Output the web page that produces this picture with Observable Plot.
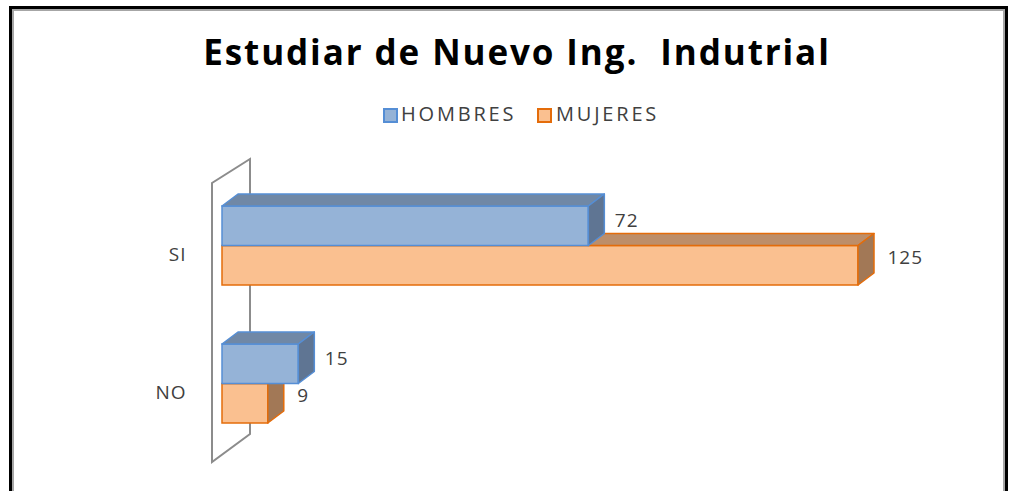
<!DOCTYPE html>
<html><head><meta charset="utf-8">
<script src="https://cdn.jsdelivr.net/npm/d3@7"></script>
<script src="https://cdn.jsdelivr.net/npm/@observablehq/plot@0.6"></script>
<style>
html,body{margin:0;padding:0;background:#fff}
body{width:1014px;height:491px;overflow:hidden;position:relative;font-family:"Open Sans",sans-serif}
#frame{position:absolute;left:9px;top:6px;width:993px;height:520px;border:3px solid #000;border-bottom:none;box-shadow:inset 2px 2px 0 #a6a6a6,inset -2px 0 0 #a6a6a6}
#title{position:absolute;left:10px;top:34px;width:1014px;text-align:center;font-weight:700;font-size:35px;line-height:1;white-space:pre;color:#000;letter-spacing:1.9px}
.leg{position:absolute;top:104px;font-size:20px;line-height:1;color:#404040;letter-spacing:2.8px;white-space:pre}
.sw{position:absolute;top:108px;width:11px;height:11px;border:2px solid}
#chart{position:absolute;left:0;top:0}
</style></head>
<body>
<div id="frame"></div>
<div id="title"></div>
<div id="legend"></div>
<div id="chart"></div>
<script>
const titleText = "Estudiar de Nuevo Ing.  Indutrial";
const categories = ["SI", "NO"];
const seriesNames = ["HOMBRES", "MUJERES"];
const hombres = [72, 15];
const mujeres = [125, 9];

const colors = {
  HOMBRES: {front: "#95b3d7", stroke: "#558ed5", top: "#7088a6", side: "#5f7593"},
  MUJERES: {front: "#fac090", stroke: "#e46c0a", top: "#bd8e69", side: "#a27856"}
};

const data = [];
categories.forEach((c, i) => {
  data.push({cat: c, series: "HOMBRES", value: hombres[i]});
  data.push({cat: c, series: "MUJERES", value: mujeres[i]});
});

document.getElementById("title").textContent = titleText;

// legend
const legend = document.getElementById("legend");
const legPos = [{sw: 383, tx: 401}, {sw: 537, tx: 556}];
seriesNames.forEach((s, i) => {
  const sw = document.createElement("div");
  sw.className = "sw";
  sw.style.left = legPos[i].sw + "px";
  sw.style.background = colors[s].front;
  sw.style.borderColor = colors[s].stroke;
  legend.appendChild(sw);
  const t = document.createElement("div");
  t.className = "leg";
  t.style.left = legPos[i].tx + "px";
  t.textContent = s;
  legend.appendChild(t);
});

const DX = 16, DY = -12;
const ns = "http://www.w3.org/2000/svg";

function bar3d(s) {
  return function(index, scales, values, dims, ctx, next) {
    const g = next(index, scales, values, dims, ctx);
    const rects = Array.from(g.querySelectorAll("rect"));
    for (const r of rects) {
      const x = +r.getAttribute("x"), y = +r.getAttribute("y");
      const w = +r.getAttribute("width"), h = +r.getAttribute("height");
      const top = document.createElementNS(ns, "path");
      top.setAttribute("d", `M${x},${y}L${x + DX},${y + DY}L${x + w + DX},${y + DY}L${x + w},${y}Z`);
      top.setAttribute("fill", colors[s].top);
      top.setAttribute("stroke", colors[s].stroke);
      top.setAttribute("stroke-width", 1.5);
      top.setAttribute("stroke-linejoin", "round");
      const side = document.createElementNS(ns, "path");
      side.setAttribute("d", `M${x + w},${y}L${x + w + DX},${y + DY}L${x + w + DX},${y + h + DY}L${x + w},${y + h}Z`);
      side.setAttribute("fill", colors[s].side);
      side.setAttribute("stroke", colors[s].stroke);
      side.setAttribute("stroke-width", 1.5);
      side.setAttribute("stroke-linejoin", "round");
      g.appendChild(top);
      g.appendChild(side);
    }
    return g;
  };
}

function wall(index, scales, values, dims) {
  const x0 = scales.x(0);
  const yTop = scales.y(categories[0]);
  const yBot = scales.y(categories[categories.length - 1]) + 79;
  const fx = x0 - 10, bx = x0 + 28;
  const p = document.createElementNS(ns, "path");
  p.setAttribute("d", `M${fx},${yBot + 39}L${fx},${yTop - 23}L${bx},${yTop - 47}L${bx},${yBot + 11}Z`);
  p.setAttribute("fill", "none");
  p.setAttribute("stroke", "#8c8c8c");
  p.setAttribute("stroke-width", 2);
  const g = document.createElementNS(ns, "g");
  g.appendChild(p);
  return g;
}

const halves = 39.5;
const marks = [wall];
// draw MUJERES first (behind), then HOMBRES
marks.push(Plot.barX(data.filter(d => d.series === "MUJERES"), {
  x: "value", y: "cat", insetTop: halves,
  fill: colors.MUJERES.front, stroke: colors.MUJERES.stroke, strokeWidth: 1.5,
  render: bar3d("MUJERES")
}));
marks.push(Plot.barX(data.filter(d => d.series === "HOMBRES"), {
  x: "value", y: "cat", insetBottom: halves,
  fill: colors.HOMBRES.front, stroke: colors.HOMBRES.stroke, strokeWidth: 1.5,
  render: bar3d("HOMBRES")
}));
marks.push(Plot.text(data.filter(d => d.series === "HOMBRES"), {
  x: "value", y: "cat", text: d => String(d.value), textAnchor: "start", dx: 26, dy: -25
}));
marks.push(Plot.text(data.filter(d => d.series === "MUJERES"), {
  x: "value", y: "cat", text: d => String(d.value), textAnchor: "start", dx: 29, dy: 12
}));
marks.push(Plot.axisY({tickSize: 0, tickPadding: 36, dy: 9, fontSize: 19, fill: "#404040"}));

const chart = Plot.plot({
  width: 1014, height: 491,
  marginLeft: 222, marginRight: 1014 - 858, marginTop: 205, marginBottom: 68,
  style: {background: "transparent", fontFamily: "Open Sans, sans-serif", fontSize: "19px", color: "#404040", letterSpacing: "1px"},
  x: {domain: [0, 125], axis: null},
  y: {domain: categories, paddingInner: 0.43, paddingOuter: 0, label: null},
  marks
});
document.getElementById("chart").appendChild(chart);
</script>
</body></html>
